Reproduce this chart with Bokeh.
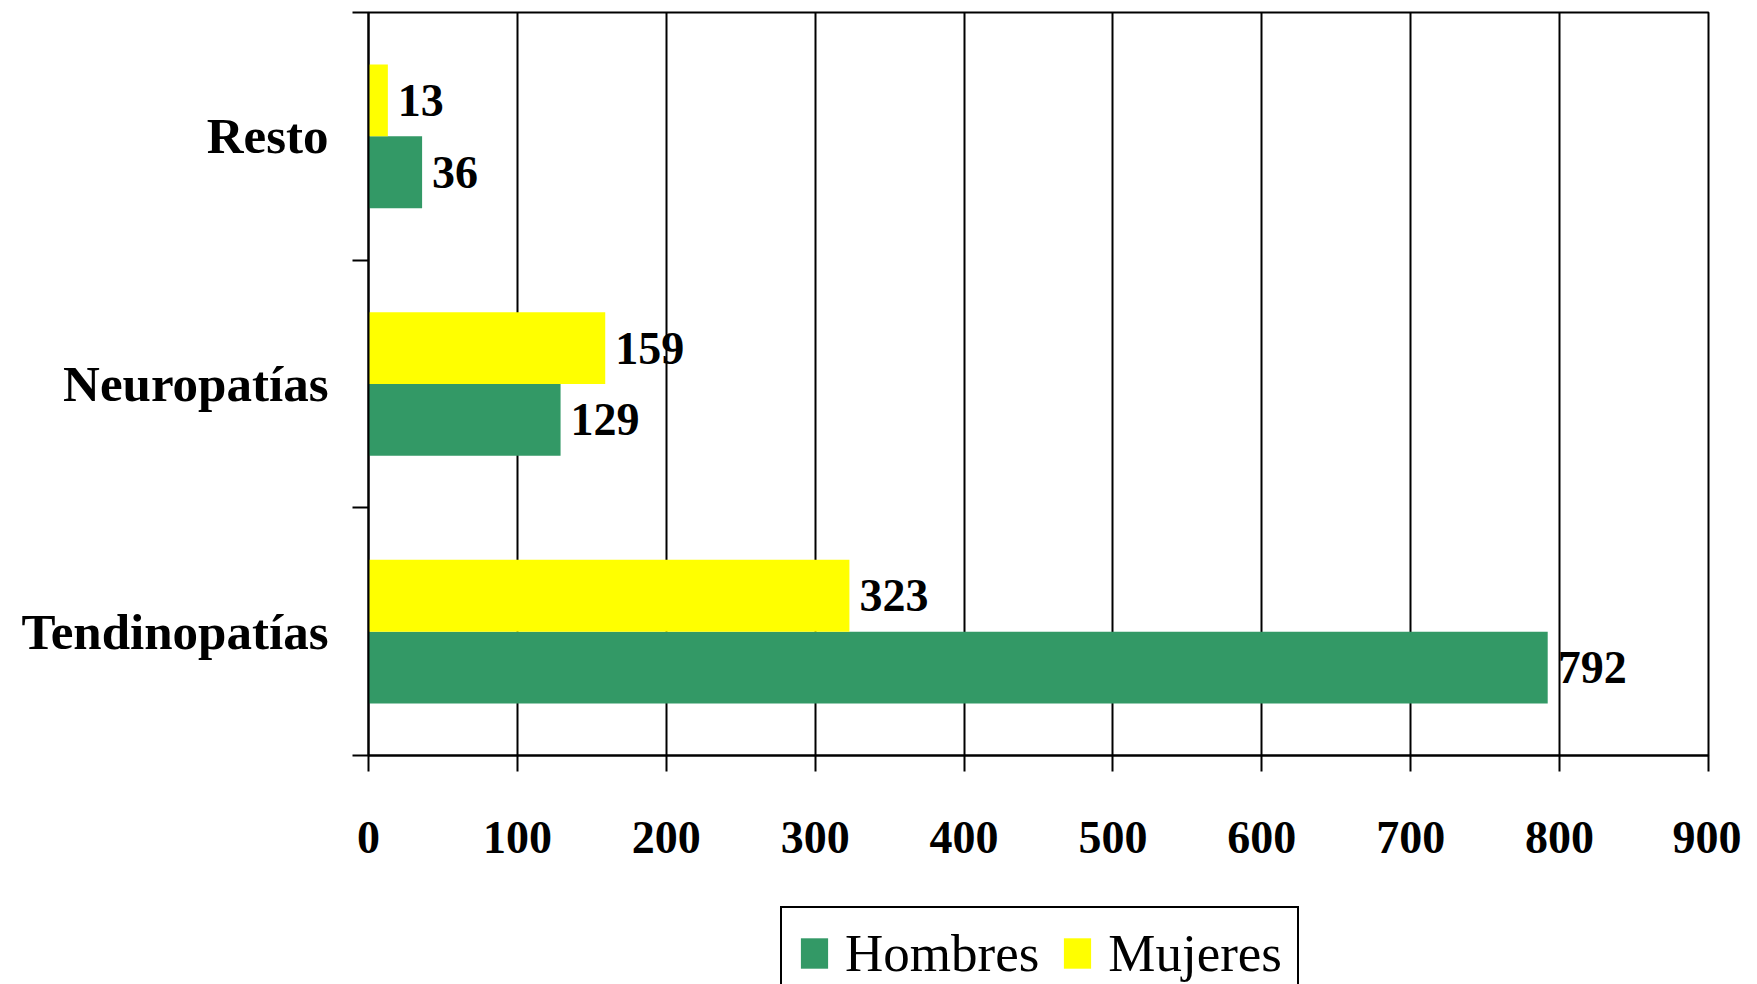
from bokeh.plotting import figure
from bokeh.models import Range1d, FixedTicker, ColumnDataSource, Legend, LegendItem
from bokeh.layouts import column
from bokeh.core.properties import value
from bokeh.embed import file_html
from bokeh.resources import INLINE

categories = ["Tendinopatías", "Neuropatías", "Resto"]
hombres = [792, 129, 36]
mujeres = [323, 159, 13]
series_names = ["Hombres", "Mujeres"]
x_ticks = [0, 100, 200, 300, 400, 500, 600, 700, 800, 900]

GREEN = "#339966"
YELLOW = "#FFFF00"
FONT = "Liberation Serif"
BAR_H = 0.29

idx = [i + 0.5 for i in range(len(categories))]
src_h = ColumnDataSource(dict(y=[c - BAR_H / 2 for c in idx], x=hombres, lab=[str(v) for v in hombres]))
src_m = ColumnDataSource(dict(y=[c + BAR_H / 2 for c in idx], x=mujeres, lab=[str(v) for v in mujeres]))

W = 1741
H1 = 890
H2 = 94
FRAME_LEFT = 368

p = figure(width=W, height=H1, output_backend="svg", toolbar_location=None,
           x_range=Range1d(0, 900), y_range=Range1d(0, len(categories)),
           min_border_left=FRAME_LEFT, min_border_top=12, min_border_right=W - 1708,
           min_border_bottom=H1 - 755)
p.background_fill_color = "white"
p.border_fill_color = "white"
p.outline_line_color = "black"
p.outline_line_width = 2

p.hbar(y="y", right="x", left=0, height=BAR_H, source=src_h, fill_color=GREEN, line_color=None)
p.hbar(y="y", right="x", left=0, height=BAR_H, source=src_m, fill_color=YELLOW, line_color=None)

for src in (src_h, src_m):
    p.text(x="x", y="y", text="lab", source=src, x_offset=10, text_baseline="middle",
           text_align="left", text_font=value(FONT), text_font_style="bold",
           text_font_size="46px", text_color="black")

# x axis
xa = p.xaxis[0]
xa.ticker = FixedTicker(ticks=x_ticks)
xa.axis_line_color = "black"
xa.axis_line_width = 2
xa.major_tick_line_color = "black"
xa.major_tick_line_width = 2
xa.major_tick_out = 16
xa.major_tick_in = 0
xa.minor_tick_line_color = None
xa.major_label_standoff = 50
xa.major_label_text_font = FONT
xa.major_label_text_font_style = "bold"
xa.major_label_text_font_size = "46px"
xa.major_label_text_color = "black"

# y axis: labels at centers, ticks at category boundaries
ya = p.yaxis[0]
ya.ticker = FixedTicker(ticks=idx, minor_ticks=[float(i) for i in range(len(categories) + 1)])
ya.major_label_overrides = {c: n for c, n in zip(idx, categories)}
ya.axis_line_color = "black"
ya.axis_line_width = 2
ya.major_tick_line_color = None
ya.major_tick_out = 0
ya.major_tick_in = 0
ya.minor_tick_line_color = "black"
ya.minor_tick_line_width = 2
ya.minor_tick_out = 16
ya.minor_tick_in = 0
ya.major_label_standoff = 24
ya.major_label_text_font = FONT
ya.major_label_text_font_style = "bold"
ya.major_label_text_font_size = "51px"
ya.major_label_text_color = "black"

p.xgrid.ticker = FixedTicker(ticks=x_ticks)
p.xgrid.grid_line_color = "black"
p.xgrid.grid_line_width = 2
p.ygrid.grid_line_color = None

# legend strip below the chart (its frame is aligned with the chart frame)
p2 = figure(width=W, height=H2, output_backend="svg", toolbar_location=None,
            x_range=Range1d(0, 1), y_range=Range1d(100, 101),
            x_axis_type=None, y_axis_type=None,
            min_border_left=0, min_border_right=0, min_border_top=0, min_border_bottom=0)
p2.outline_line_color = None
p2.xgrid.visible = False
p2.ygrid.visible = False
p2.background_fill_color = "white"
p2.border_fill_color = "white"
lg_h = p2.hbar(y="y", right="x", left=0, height=BAR_H, source=src_h, fill_color=GREEN, line_color=None)
lg_m = p2.hbar(y="y", right="x", left=0, height=BAR_H, source=src_m, fill_color=YELLOW, line_color=None)

legend = Legend(items=[LegendItem(label=series_names[0], renderers=[lg_h]),
                       LegendItem(label=series_names[1], renderers=[lg_m])],
                orientation="horizontal", location=(780 - FRAME_LEFT, -16))
legend.label_text_font = FONT
legend.label_text_font_size = "53px"
legend.label_text_color = "black"
legend.glyph_width = 34
legend.glyph_height = 38
legend.label_standoff = 14
legend.spacing = 21
legend.padding = 15
legend.margin = 0
legend.border_line_color = "black"
legend.border_line_alpha = 1.0
legend.border_line_width = 2
legend.background_fill_color = "white"
legend.background_fill_alpha = 1
p2.add_layout(legend, "center")

layout = column(p, p2, spacing=0)
open("out.html", "w").write(file_html(layout, INLINE))
